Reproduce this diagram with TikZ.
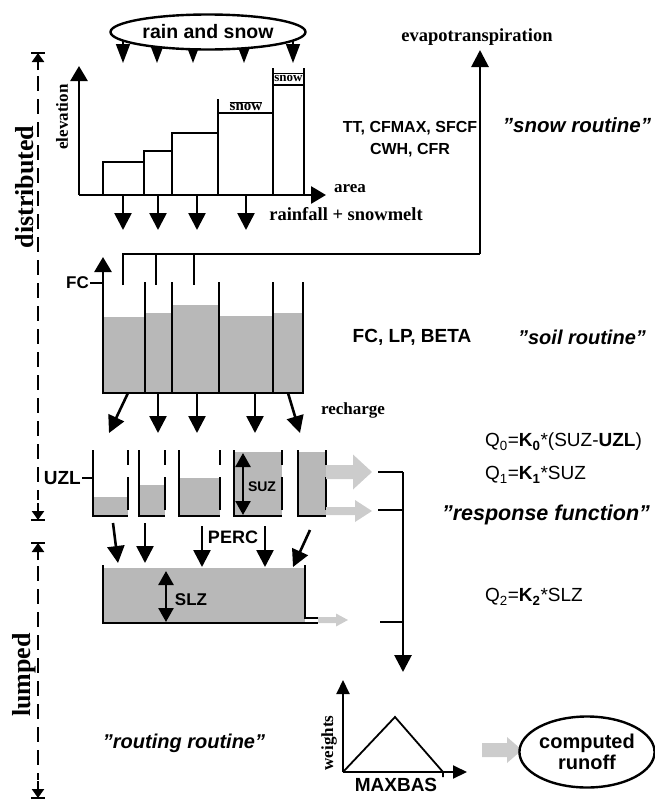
\documentclass[tikz,border=0pt]{standalone}
\usepackage{fontspec}
\setmainfont{Liberation Serif}
\setsansfont{Liberation Sans}
\usepackage{tikz}
\usetikzlibrary{arrows.meta,positioning,shapes.geometric,calc}
\definecolor{waterc}{gray}{0.72}
\definecolor{flowc}{gray}{0.80}
\tikzset{
  wall/.style={line width=2.6pt},
  barline/.style={line width=1.3pt},
  dn/.style={-{Triangle[length=17pt,width=17pt]},line width=2.6pt},
  rn/.style={-{Triangle[length=19pt,width=14pt]},line width=1.6pt},
  axis/.style={-{Triangle[length=15pt,width=17pt]},line width=2.8pt},
  smallaxis/.style={-{Triangle[length=14pt,width=13pt]},line width=2pt},
  dbl/.style={{Triangle[length=14pt,width=15pt]}-{Triangle[length=14pt,width=15pt]},line width=2.6pt},
  zarr/.style={-{Triangle[length=9pt,width=12pt]},line width=2.2pt},
  dashline/.style={line width=2.4pt,dash pattern=on 15pt off 8pt},
  water/.style={fill=waterc},
  lbl/.style={font=\rmfamily\bfseries\fontsize{18.5}{20}\selectfont,inner sep=0pt},
  par/.style={font=\sffamily\bfseries\fontsize{19}{21}\selectfont,inner sep=0pt,align=center},
  eqn/.style={font=\sffamily\fontsize{19}{21}\selectfont,inner sep=0pt,anchor=west},
  routine/.style={font=\sffamily\bfseries\itshape\fontsize{20}{22}\selectfont,inner sep=0pt},
  zonelbl/.style={font=\rmfamily\bfseries\fontsize{26}{28}\selectfont,rotate=90,inner sep=0pt},
  bubble/.style={ellipse,draw,line width=2.4pt,fill=white,inner sep=0pt,align=center,
                 font=\sffamily\bfseries\fontsize{19.5}{21}\selectfont},
}
\newcommand\fatarrow[6]{%
  \fill[flowc] (#1,#2-#4) -- (#3-#6,#2-#4) -- (#3-#6,#2-#5) -- (#3,#2)
     -- (#3-#6,#2+#5) -- (#3-#6,#2+#4) -- (#1,#2+#4) -- cycle;}
\begin{document}
\begin{tikzpicture}[x=1pt,y=-1pt]
  \useasboundingbox (0,0) rectangle (655,809);
  % zones on the left
  \coordinate (dtop) at (38,53);  \coordinate (dbot) at (38,520);
  \coordinate (ltop) at (38,543); \coordinate (lbot) at (38,798);
  \foreach \c in {dtop,dbot,ltop,lbot} \draw[line width=2.2pt] ($(\c)+(-7,0)$) -- ($(\c)+(7,0)$);
  \draw[zarr] (38,70) -- (dtop);
  \draw[dashline] (38,76) -- (38,500);
  \draw[zarr] (38,503) -- (dbot);
  \draw[zarr] (38,560) -- (ltop);
  \draw[dashline] (38,566) -- (38,780);
  \draw[zarr] (38,781) -- (lbot);
  \node[zonelbl] (distr) at (25,187) {distributed};
  \node[zonelbl] (lump) at (24,675) {lumped};
  % snow routine
  \foreach \x in {123,157,193,244,293} \draw[rn] (\x,40) -- (\x,63);
  \node[bubble,minimum width=195pt,minimum height=35pt] (rain) at (208,32) {rain and snow};
  \foreach \a/\b/\h in {103/144/162,144/172/151,172/218/133,218/273/113,273/304/85}
    \draw[barline] (\a,195) rectangle (\b,\h);
  \draw[barline] (218,113) -- (218,99);
  \draw[barline] (273,85) -- (273,68) (304,85) -- (304,68);
  \node[lbl,font=\rmfamily\bfseries\fontsize{15}{17}\selectfont] (snowa) at (246,106) {$\overline{\mbox{snow}}$};
  \node[lbl,font=\rmfamily\bfseries\fontsize{13}{15}\selectfont] (snowb) at (288.5,77) {$\overline{\mbox{snow}}$};
  \coordinate (orig) at (79,195);
  \draw[axis] (orig) -- (79,66);
  \draw[axis] (orig) -- (326,195);
  \node[lbl,rotate=90,font=\rmfamily\bfseries\fontsize{17}{19}\selectfont] (elev) at (62,117) {elevation};
  \node[lbl,anchor=west,font=\rmfamily\bfseries\fontsize{17}{19}\selectfont] (area) at (334,189) {area};
  \node[lbl] (melt) at (346,214) {rainfall + snowmelt};
  \foreach \x in {123,158,197,246} \draw[dn] (\x,195) -- (\x,230);
  \node[par,font=\sffamily\bfseries\fontsize{16}{22}\selectfont] (snowpar) at (410,139) {TT, CFMAX, SFCF\\CWH, CFR};
  \node[routine,font=\sffamily\bfseries\itshape\fontsize{20.5}{23}\selectfont] (snowrt) at (577,125) {"snow routine"};
  % soil routine
  \node[lbl] (evap) at (477,37) {evapotranspiration};
  \coordinate (etp) at (480,254);
  \draw[wall] (123,285) -- (123,254) -- (etp);
  \draw[dn,line width=2.8pt] (etp) -- (480,50);
  \foreach \x in {156,194} \draw[wall] (\x,254) -- (\x,285);
  \foreach \a/\b/\h in {103/145/317,145/172/313,172/219/305,219/273/316,273/303/313}
    \fill[water] (\a,393) rectangle (\b,\h);
  \draw[wall] (102,393) -- (304,393);
  \foreach \x in {145,172,219,273,303} \draw[wall] (\x,393) -- (\x,282);
  \draw[axis] (103,394) -- (103,257);
  \draw[wall] (90,283) -- (103,283);
  \node[par,font=\sffamily\bfseries\fontsize{17}{19}\selectfont,anchor=east] (fc) at (89,283) {FC};
  \node[par] (soilpar) at (412,337) {FC, LP, BETA};
  \node[routine] (soilrt) at (582,337) {"soil routine"};
  \foreach \a/\b in {128/109,158/158,197/197,255/255,288/300} \draw[dn] (\a,393) -- (\b,433);
  \node[lbl,font=\rmfamily\bfseries\fontsize{17}{19}\selectfont] (rech) at (353,410) {recharge};
  % response function
  \foreach \a/\b/\h in {93/128/497,139/165/485,179/220/478,234/282/452,298/326/452}{
    \fill[water] (\a,516) rectangle (\b,\h);
    \draw[wall] (\a,450) -- (\a,516) -- (\b,516);
    \draw[wall] (\b,450) -- (\b,465) (\b,477) -- (\b,510);
  }
  \draw[dbl] (243,453) -- (243,515);
  \node[par,font=\sffamily\bfseries\fontsize{14}{16}\selectfont] (suz) at (262,487) {SUZ};
  \draw[wall] (82,478) -- (93,478);
  \node[par,anchor=east] (uzl) at (81,478) {UZL};
  \fatarrow{326}{472}{372}{7}{17.5}{19}
  \fatarrow{326}{511}{372}{4}{11}{17}
  \foreach \a/\b/\c/\d in {113/523/118/563,145/523/145/563,202/526/202/567,265/526/265/567,310/530/293/567}
    \draw[dn] (\a,\b) -- (\c,\d);
  \node[par,font=\sffamily\bfseries\fontsize{18}{20}\selectfont] (perc) at (233,537) {PERC};
  \fill[water] (103,568) rectangle (305,623);
  \draw[wall] (103,565) -- (103,623) -- (318,623);
  \draw[wall] (305,565) -- (305,618) -- (318,618);
  \draw[dbl] (166,571) -- (166,622);
  \node[par,font=\sffamily\bfseries\fontsize{17}{19}\selectfont] (slz) at (191,600) {SLZ};
  \fatarrow{318}{620}{348}{3}{6.5}{12}
  \coordinate (qa) at (403,472); \coordinate (qb) at (403,510); \coordinate (qc) at (403,622);
  \draw[wall] (378,472) -- (qa);
  \draw[wall] (378,510) -- (qb);
  \draw[wall] (380,622) -- (qc);
  \draw[dn,line width=2.8pt] (qa) -- (403,672);
  \node[eqn] (q0) at (485,442) {Q\textsubscript{0}=\textbf{K\textsubscript{0}}*(SUZ-\textbf{UZL})};
  \node[eqn] (q1) at (485,475) {Q\textsubscript{1}=\textbf{K\textsubscript{1}}*SUZ};
  \node[routine,font=\sffamily\bfseries\itshape\fontsize{21.5}{24}\selectfont] (resprt) at (546,515) {"response function"};
  \node[eqn] (q2) at (485,597) {Q\textsubscript{2}=\textbf{K\textsubscript{2}}*SLZ};
  % routing routine
  \node[routine] (routrt) at (184,743) {"routing routine"};
  \coordinate (worig) at (343,772);
  \draw[smallaxis] (worig) -- (343,680);
  \draw[smallaxis] (worig) -- (467,772);
  \draw[line width=1.8pt] (worig) -- (395,717) -- (443,772) -- (443,777);
  \node[lbl,rotate=90,font=\rmfamily\bfseries\fontsize{17}{19}\selectfont] (wts) at (329,743) {weights};
  \node[par] (maxbas) at (396,785) {MAXBAS};
  \fatarrow{482}{750}{522}{7}{13}{15}
  \node[bubble,font=\sffamily\bfseries\fontsize{20}{21}\selectfont,minimum width=115pt,minimum height=71pt] (runoff) at (587,752) {computed\\runoff};
\end{tikzpicture}
\end{document}
